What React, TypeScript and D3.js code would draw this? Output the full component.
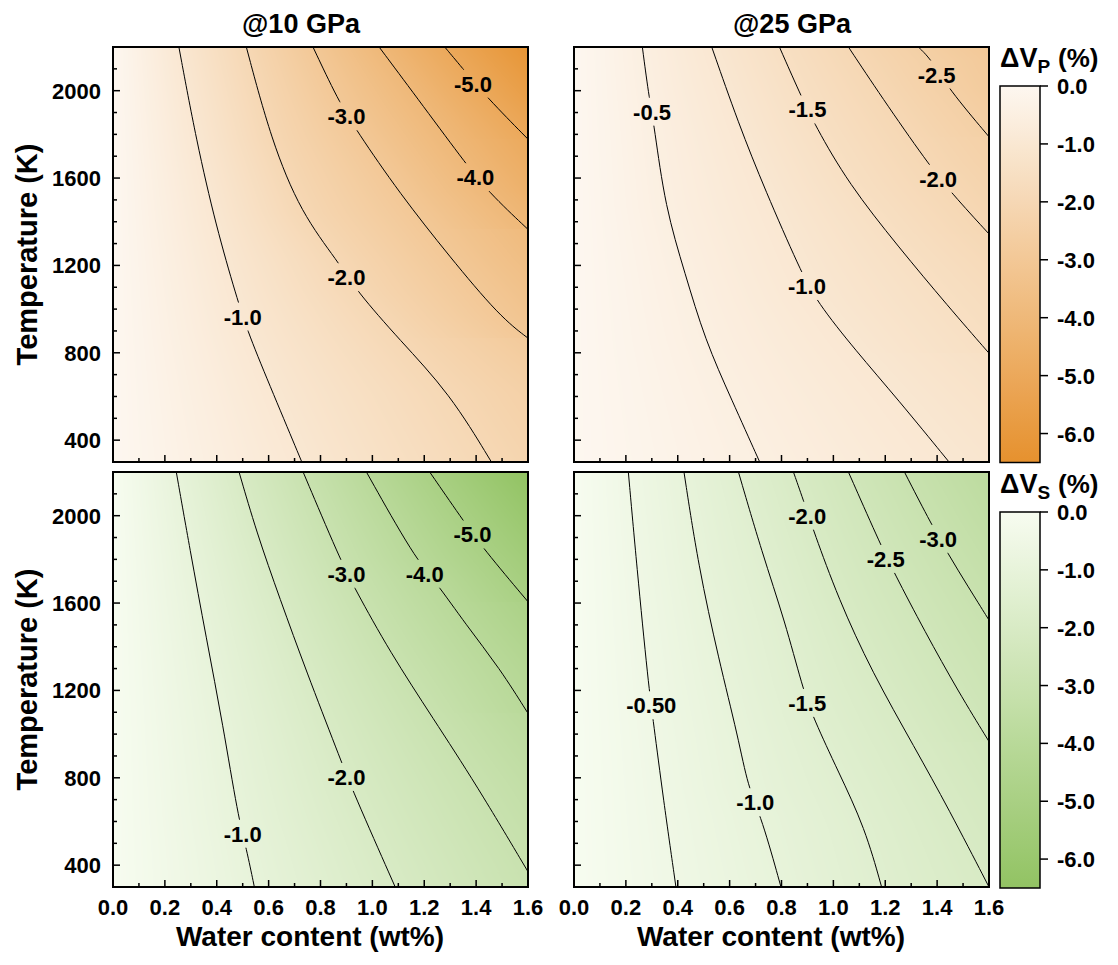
import React, { useMemo } from "react";
import * as d3 from "d3";

type Pt = [number, number]; // [water wt%, temperature K]
type Label = [string, number, number]; // text, w, T

// ---------- axis ticks ----------
const W_MAJOR = [0, 0.2, 0.4, 0.6, 0.8, 1.0, 1.2, 1.4, 1.6];
const W_MINOR = [0.1, 0.3, 0.5, 0.7, 0.9, 1.1, 1.3, 1.5];
const T_MAJOR = [400, 800, 1200, 1600, 2000];
const T_MINOR = [500, 600, 700, 900, 1000, 1100, 1300, 1400, 1500, 1700, 1800, 1900, 2100];
const CB_TICKS = [0, -1, -2, -3, -4, -5, -6];
const TITLES = ["@10 GPa", "@25 GPa"];

// ---------- ΔVp @10 GPa ----------
const vp10Levels = [-1, -2, -3, -4, -5];
const vp10Lines: Pt[][] = [
  [[0.254, 2200], [0.321, 1773], [0.398, 1377], [0.476, 1057], [0.521, 890], [0.617, 615], [0.728, 300]],
  [[0.514, 2200], [0.61, 1773], [0.726, 1438], [0.868, 1217], [0.938, 1085], [1.105, 859], [1.298, 615], [1.459, 300]],
  [[0.771, 2200], [0.868, 1956], [0.938, 1819], [1.105, 1530], [1.298, 1240], [1.491, 966], [1.6, 867]],
  [[1.026, 2200], [1.17, 1971], [1.35, 1682], [1.446, 1537], [1.6, 1365]],
  [[1.279, 2200], [1.343, 2109], [1.44, 1971], [1.6, 1778]],
];
const vp10Labels: Label[] = [
  ["-1.0", 0.5, 966], ["-2.0", 0.9, 1146], ["-3.0", 0.9, 1883], ["-4.0", 1.397, 1604], ["-5.0", 1.388, 2032],
];

// ---------- ΔVp @25 GPa ----------
const vp25Levels = [-0.5, -1, -1.5, -2, -2.5];
const vp25Lines: Pt[][] = [
  [[0.2635, 2200], [0.287, 1987], [0.31, 1834], [0.351, 1469], [0.428, 1164], [0.505, 859], [0.608, 585], [0.716, 300]],
  [[0.531, 2200], [0.634, 1850], [0.737, 1545], [0.872, 1179], [0.936, 1034], [1.084, 813], [1.25, 585], [1.446, 300]],
  [[0.792, 2200], [0.871, 1987], [0.929, 1842], [1.058, 1575], [1.25, 1286], [1.443, 1012], [1.6, 798]],
  [[1.058, 2200], [1.186, 1971], [1.36, 1674], [1.456, 1530], [1.6, 1344]],
  [[1.328, 2200], [1.38, 2139], [1.443, 2010], [1.6, 1789]],
];
const vp25Labels: Label[] = [
  ["-0.5", 0.301, 1904], ["-1.5", 0.9, 1914], ["-1.0", 0.898, 1106], ["-2.0", 1.404, 1597], ["-2.5", 1.398, 2074],
];

// ---------- ΔVs @10 GPa ----------
const vs10Levels = [-1, -2, -3, -4, -5];
const vs10Lines: Pt[][] = [
  [[0.244, 2200], [0.296, 1850], [0.36, 1438], [0.424, 1042], [0.482, 623], [0.514, 478], [0.545, 300]],
  [[0.486, 2200], [0.553, 1926], [0.643, 1621], [0.746, 1286], [0.868, 912], [0.925, 737], [1.088, 300]],
  [[0.733, 2200], [0.874, 1804], [0.932, 1667], [1.067, 1377], [1.234, 1072], [1.401, 768], [1.6, 370]],
  [[0.977, 2200], [1.163, 1807], [1.24, 1705], [1.362, 1499], [1.491, 1301], [1.6, 1095]],
  [[1.221, 2200], [1.343, 1990], [1.427, 1850], [1.6, 1606]],
];
const vs10Labels: Label[] = [
  ["-1.0", 0.5, 544], ["-2.0", 0.9, 804], ["-3.0", 0.9, 1734], ["-4.0", 1.202, 1734], ["-5.0", 1.386, 1914],
];

// ---------- ΔVs @25 GPa ----------
const vs25Levels = [-0.5, -1, -1.5, -2, -2.5, -3];
const vs25Lines: Pt[][] = [
  [[0.2095, 2200], [0.2417, 1773], [0.287, 1225], [0.306, 1057], [0.344, 707], [0.393, 300]],
  [[0.424, 2200], [0.479, 1773], [0.557, 1347], [0.634, 981], [0.67, 760], [0.724, 615], [0.798, 300]],
  [[0.634, 2200], [0.724, 1834], [0.814, 1514], [0.88, 1217], [0.923, 1072], [1.019, 829], [1.122, 570], [1.186, 300]],
  [[0.846, 2200], [0.891, 2048], [0.923, 1933], [1.019, 1621], [1.148, 1286], [1.315, 935], [1.443, 661], [1.6, 300]],
  [[1.058, 2200], [1.174, 1888], [1.231, 1746], [1.353, 1469], [1.482, 1194], [1.6, 966]],
  [[1.274, 2200], [1.366, 1987], [1.441, 1827], [1.52, 1674], [1.6, 1522]],
];
const vs25Labels: Label[] = [
  ["-2.0", 0.899, 2000], ["-3.0", 1.404, 1894], ["-2.5", 1.202, 1802],
  ["-0.50", 0.298, 1132], ["-1.5", 0.899, 1143], ["-1.0", 0.699, 688],
];

// ---------- styling / layout ----------
const FONT = "'Liberation Sans', Arial, Helvetica, sans-serif";
const PW = 415;
const PH = 415;
const COL_X = [113, 574];
const ROW_Y = [47, 472];
const LABEL_FS = 22;
const TICK_FS = 22;
const CB_MIN = -6.5;

const vpColor = d3.scaleLinear<string>().domain([0, CB_MIN]).range(["#fdf7f0", "#e6912e"]).interpolate(d3.interpolateRgb).clamp(true);
const vsColor = d3.scaleLinear<string>().domain([0, CB_MIN]).range(["#f7fcf0", "#92c363"]).interpolate(d3.interpolateRgb).clamp(true);

const CHAR_W: Record<string, number> = { "-": 0.333, ".": 0.278 };
function textW(s: string, fs: number) {
  let t = 0;
  for (const ch of s) t += CHAR_W[ch] ?? 0.556;
  return t * fs;
}

function crossing(line: Pt[], T: number): number | null {
  for (let i = 0; i < line.length - 1; i++) {
    const [w0, t0] = line[i];
    const [w1, t1] = line[i + 1];
    if (T <= t0 && T >= t1) {
      const f = (t0 - T) / (t0 - t1 || 1);
      return w0 + f * (w1 - w0);
    }
  }
  return null;
}

function valueAt(pairs: [number, number][], w: number) {
  if (pairs.length < 2) return 0;
  let i = 0;
  while (i < pairs.length - 2 && w > pairs[i + 1][0]) i++;
  const [a, va] = pairs[i];
  const [b, vb] = pairs[i + 1];
  return va + ((w - a) / (b - a || 1e-6)) * (vb - va);
}

function renderField(lines: Pt[][], levels: number[], color: (v: number) => string) {
  const xs = d3.scaleLinear().domain([0, 1.6]).range([0, PW]);
  const ys = d3.scaleLinear().domain([300, 2200]).range([PH, 0]);
  const N = 600;
  const lut = d3.range(N + 1).map((k) => d3.rgb(color((k / N) * CB_MIN)));
  const canvas = document.createElement("canvas");
  canvas.width = PW;
  canvas.height = PH;
  const ctx = canvas.getContext("2d")!;
  const img = ctx.createImageData(PW, PH);
  for (let j = 0; j < PH; j++) {
    const T = ys.invert(j + 0.5);
    const pairs: [number, number][] = [[0, 0]];
    lines.forEach((ln, k) => {
      const w = crossing(ln, T);
      if (w != null) pairs.push([w, levels[k]]);
    });
    pairs.sort((a, b) => a[0] - b[0]);
    for (let i = 0; i < PW; i++) {
      const v = valueAt(pairs, xs.invert(i + 0.5));
      const idx = Math.max(0, Math.min(N, Math.round((v / CB_MIN) * N)));
      const c = lut[idx];
      const o = (j * PW + i) * 4;
      img.data[o] = c.r;
      img.data[o + 1] = c.g;
      img.data[o + 2] = c.b;
      img.data[o + 3] = 255;
    }
  }
  ctx.putImageData(img, 0, 0);
  return canvas.toDataURL();
}

type PanelProps = {
  id: string;
  x0: number;
  y0: number;
  lines: Pt[][];
  levels: number[];
  labels: Label[];
  color: (v: number) => string;
  showX: boolean;
  showY: boolean;
};

function Panel({ id, x0, y0, lines, levels, labels, color, showX, showY }: PanelProps) {
  const xs = d3.scaleLinear().domain([0, 1.6]).range([0, PW]);
  const ys = d3.scaleLinear().domain([300, 2200]).range([PH, 0]);
  const href = useMemo(() => renderField(lines, levels, color), [id]);
  const lineGen = d3
    .line<Pt>()
    .x((d) => xs(d[0]))
    .y((d) => ys(d[1]))
    .curve(d3.curveBasis);
  return (
    <g transform={`translate(${x0},${y0})`}>
      <defs>
        <clipPath id={`c${id}`}>
          <rect width={PW} height={PH} />
        </clipPath>
        <mask id={`m${id}`} maskUnits="userSpaceOnUse" x={-20} y={-20} width={PW + 40} height={PH + 40}>
          <rect x={-20} y={-20} width={PW + 40} height={PH + 40} fill="white" />
          {labels.map(([s, w, T], i) => {
            const tw = textW(s, LABEL_FS) + 6;
            return <rect key={i} x={xs(w) - tw / 2} y={ys(T) - 14} width={tw} height={28} fill="black" />;
          })}
        </mask>
      </defs>
      <image href={href} x={0} y={0} width={PW} height={PH} preserveAspectRatio="none" />
      <g clipPath={`url(#c${id})`}>
        <g mask={`url(#m${id})`}>
          {lines.map((ln, k) => (
            <path key={k} d={lineGen(ln) || ""} fill="none" stroke="#000" strokeWidth={1} />
          ))}
        </g>
      </g>
      {labels.map(([s, w, T], i) => (
        <text key={i} x={xs(w)} y={ys(T) + 8} textAnchor="middle" fontSize={LABEL_FS}>
          {s}
        </text>
      ))}
      {W_MAJOR.map((w) => (
        <line key={`wM${w}`} x1={xs(w)} x2={xs(w)} y1={PH} y2={PH - 7} stroke="#000" strokeWidth={1.5} />
      ))}
      {W_MINOR.map((w) => (
        <line key={`wm${w}`} x1={xs(w)} x2={xs(w)} y1={PH} y2={PH - 4} stroke="#000" strokeWidth={1.5} />
      ))}
      {T_MAJOR.map((t) => (
        <line key={`tM${t}`} x1={0} x2={7} y1={ys(t)} y2={ys(t)} stroke="#000" strokeWidth={1.5} />
      ))}
      {T_MINOR.map((t) => (
        <line key={`tm${t}`} x1={0} x2={4} y1={ys(t)} y2={ys(t)} stroke="#000" strokeWidth={1.5} />
      ))}
      <rect width={PW} height={PH} fill="none" stroke="#000" strokeWidth={2} />
      {showX &&
        W_MAJOR.map((w) => (
          <text key={`wl${w}`} x={xs(w)} y={PH + 28} textAnchor="middle" fontSize={TICK_FS}>
            {w.toFixed(1)}
          </text>
        ))}
      {showY &&
        T_MAJOR.map((t) => (
          <text key={`tl${t}`} x={-12} y={ys(t) + 8} textAnchor="end" fontSize={TICK_FS}>
            {t}
          </text>
        ))}
    </g>
  );
}

function ColorBar({ id, top, bottom, color, sub }: { id: string; top: number; bottom: number; color: (v: number) => string; sub: string }) {
  const y = d3.scaleLinear().domain([0, CB_MIN]).range([top, bottom]);
  const stops = d3.range(11).map((k) => k / 10);
  return (
    <g>
      <defs>
        <linearGradient id={id} x1="0" y1="0" x2="0" y2="1">
          {stops.map((s) => (
            <stop key={s} offset={s} stopColor={color(s * CB_MIN)} />
          ))}
        </linearGradient>
      </defs>
      <rect x={1000} y={top} width={40} height={bottom - top} fill={`url(#${id})`} stroke="#000" strokeWidth={1.5} />
      {CB_TICKS.map((v) => (
        <g key={v}>
          <line x1={1040} x2={1048} y1={y(v)} y2={y(v)} stroke="#000" strokeWidth={1.5} />
          <text x={1057} y={y(v) + 8} fontSize={TICK_FS}>
            {v.toFixed(1)}
          </text>
        </g>
      ))}
      <text x={1000} y={top - 19} fontSize={27}>
        ΔV
        <tspan fontSize={19} dy={6}>
          {sub}
        </tspan>
      </text>
      <text x={1058} y={top - 19} fontSize={26}>
        (%)
      </text>
    </g>
  );
}

const PANELS: PanelProps[] = [
  { id: "vp10", x0: COL_X[0], y0: ROW_Y[0], lines: vp10Lines, levels: vp10Levels, labels: vp10Labels, color: vpColor, showX: false, showY: true },
  { id: "vp25", x0: COL_X[1], y0: ROW_Y[0], lines: vp25Lines, levels: vp25Levels, labels: vp25Labels, color: vpColor, showX: false, showY: false },
  { id: "vs10", x0: COL_X[0], y0: ROW_Y[1], lines: vs10Lines, levels: vs10Levels, labels: vs10Labels, color: vsColor, showX: true, showY: true },
  { id: "vs25", x0: COL_X[1], y0: ROW_Y[1], lines: vs25Lines, levels: vs25Levels, labels: vs25Labels, color: vsColor, showX: true, showY: false },
];

export default function App() {
  return (
    <svg
      width={1118}
      height={965}
      style={{ position: "absolute", left: 0, top: 0, background: "#fff" }}
      fontFamily={FONT}
      fontWeight="bold"
    >
      {PANELS.map((p) => (
        <Panel key={p.id} {...p} />
      ))}
      <text x={301} y={33} textAnchor="middle" fontSize={27}>
        {TITLES[0]}
      </text>
      <text x={792} y={33} textAnchor="middle" fontSize={27}>
        {TITLES[1]}
      </text>
      {ROW_Y.map((y0, i) => (
        <text key={i} transform={`translate(37,${y0 + PH / 2}) rotate(-90)`} textAnchor="middle" fontSize={29}>
          Temperature (K)
        </text>
      ))}
      <text x={310} y={946} textAnchor="middle" fontSize={28}>
        Water content (wt%)
      </text>
      <text x={771} y={946} textAnchor="middle" fontSize={28}>
        Water content (wt%)
      </text>
      <ColorBar id="gvp" top={86} bottom={462.5} color={vpColor} sub="P" />
      <ColorBar id="gvs" top={512} bottom={888} color={vsColor} sub="S" />
    </svg>
  );
}
